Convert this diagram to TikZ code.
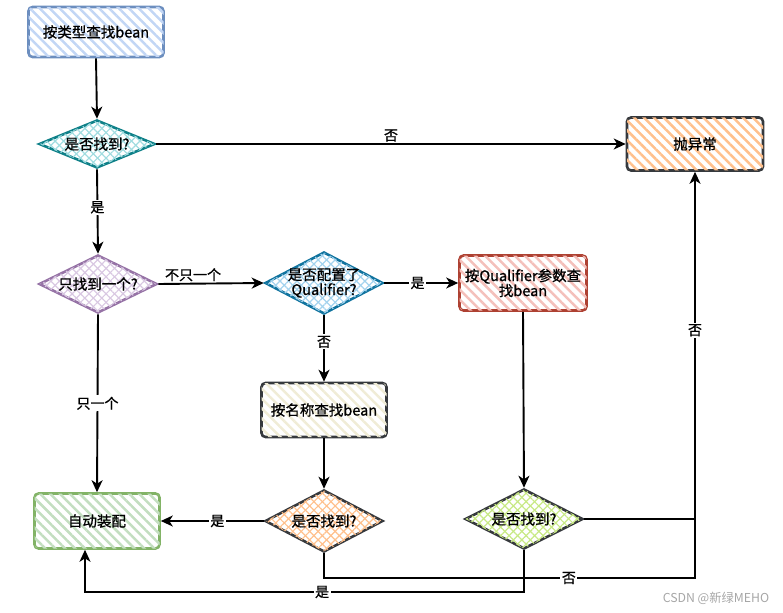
\documentclass[tikz,border=0pt]{standalone}
\usepackage{fontspec}
\setmainfont{Noto Sans CJK SC}
\newfontfamily\semibold{Noto Sans CJK SC}[FakeBold=0.9]
\usetikzlibrary{shapes.geometric,arrows.meta,patterns.meta}
\definecolor{bluestroke}{HTML}{6C8EBF}
\definecolor{bluehatch}{HTML}{C2D6F5}
\definecolor{tealstroke}{HTML}{0E8088}
\definecolor{tealhatch}{HTML}{A0DCE0}
\definecolor{purplestroke}{HTML}{9673A6}
\definecolor{purplehatch}{HTML}{D9C8E2}
\definecolor{qstroke}{HTML}{10739E}
\definecolor{qhatch}{HTML}{A3D3EE}
\definecolor{redstroke}{HTML}{AE4132}
\definecolor{redhatch}{HTML}{F4C0BB}
\definecolor{darkstroke}{HTML}{36393D}
\definecolor{creamhatch}{HTML}{F0ECD6}
\definecolor{greenstroke}{HTML}{82B366}
\definecolor{greenhatch}{HTML}{C3DEC0}
\definecolor{orangehatch}{HTML}{FFC08C}
\definecolor{limehatch}{HTML}{C8E985}
\tikzset{
  txt/.style={font=\semibold\fontsize{14.5}{17}\selectfont, align=center, inner sep=0pt},
  stepbox/.style={txt, draw, rounded corners=4pt, line width=2.6pt},
  decision/.style={diamond, draw, line width=2.6pt, inner sep=0pt},
  hatch/.style={postaction={pattern={Lines[angle=-45,distance=7pt,line width=2.5pt]}, pattern color=#1}},
  xhatch/.style={postaction={pattern={Lines[angle=-45,distance=6pt,line width=1.2pt]}, pattern color=#1},
                 postaction={pattern={Lines[angle=45,distance=6pt,line width=1.2pt]}, pattern color=#1}},
  conn/.style={line width=1.9pt, draw=black},
  arr/.style={conn, -{Stealth[length=12pt,width=11pt,inset=3.5pt]}},
  lbl/.style={font=\semibold\fontsize{14}{16}\selectfont, fill=white, inner sep=1.5pt},
  lblnf/.style={font=\semibold\fontsize{14}{16}\selectfont, inner sep=1.5pt},
}
\begin{document}
\begin{tikzpicture}[x=1pt,y=-1pt]
\useasboundingbox (0,0) rectangle (783,612);
% nodes
\node[stepbox, draw=bluestroke, minimum width=135pt, minimum height=50pt, hatch=bluehatch] (n1) at (96,32) {按类型查找bean};
\node[decision, draw=tealstroke, minimum width=116pt, minimum height=48pt, xhatch=tealhatch] (d1) at (97,144) {};
\node[txt] (t1) at (d1) {是否找到?};
\node[decision, draw=purplestroke, minimum width=118pt, minimum height=58pt, xhatch=purplehatch] (d2) at (98,284) {};
\node[txt] (t2) at (d2) {只找到一个?};
\node[decision, draw=qstroke, minimum width=118pt, minimum height=62pt, xhatch=qhatch] (d3) at (324,283) {};
\node[txt] (t3) at (d3) {是否配置了\\[-2pt]Qualifier?};
\node[stepbox, draw=redstroke, minimum width=127pt, minimum height=55pt, hatch=redhatch] (n2) at (523,283) {按Qualifier参数查\\[-2pt]找bean};
\node[stepbox, draw=darkstroke, minimum width=125pt, minimum height=54pt, hatch=creamhatch] (n3) at (324,410) {按名称查找bean};
\node[stepbox, draw=greenstroke, minimum width=125pt, minimum height=55pt, hatch=greenhatch] (n4) at (97,521) {自动装配};
\node[decision, draw=darkstroke, minimum width=118pt, minimum height=62pt, xhatch=orangehatch] (d4) at (324,521) {};
\node[txt] (t4) at (d4) {是否找到?};
\node[decision, draw=darkstroke, minimum width=118pt, minimum height=60pt, xhatch=limehatch] (d5) at (524,519) {};
\node[txt] (t5) at (d5) {是否找到?};
\node[stepbox, draw=darkstroke, minimum width=136pt, minimum height=53pt, hatch=orangehatch] (n5) at (695,144) {抛异常};
% junction coordinates
\coordinate (j) at (695,519);
\coordinate (k) at (695,578);
\coordinate (m) at (85,592);
% connectors
\draw[arr] (n1.south) -- (d1.north);
\draw[arr] (d1.east) -- node[lblnf, above, pos=0.5] {否} (n5.west);
\draw[arr] (d1.south) -- node[lbl, pos=0.45] {是} (d2.north);
\draw[arr] (d2.east) -- node[lblnf, above, pos=0.33] {不只一个} (d3.west);
\draw[arr] (d2.south) -- node[lbl, pos=0.5] {只一个} (n4.north);
\draw[arr] (d3.east) -- node[lbl, pos=0.45] {是} (n2.west);
\draw[arr] (d3.south) -- node[lbl, pos=0.4] {否} (n3.north);
\draw[arr] (n3.south) -- (d4.north);
\draw[arr] (n2.south) -- (d5.north);
\draw[arr] (d4.west) -- node[lbl, pos=0.45] {是} (n4.east);
\draw[conn] (d5.east) -- (j);
\draw[arr] (d4.south) |- node[lbl, pos=0.83] {否} (k) -- node[lbl, pos=0.61] {否} (n5.south);
\draw[arr] (d5.south) |- node[lbl, pos=0.73] {是} (m) -- (m |- n4.south);
% watermark
\node[font=\fontsize{12.3}{14}\selectfont, text=gray!70, inner sep=0pt] (wm) at (716,598) {CSDN @新绿MEHO};
\end{tikzpicture}
\end{document}
